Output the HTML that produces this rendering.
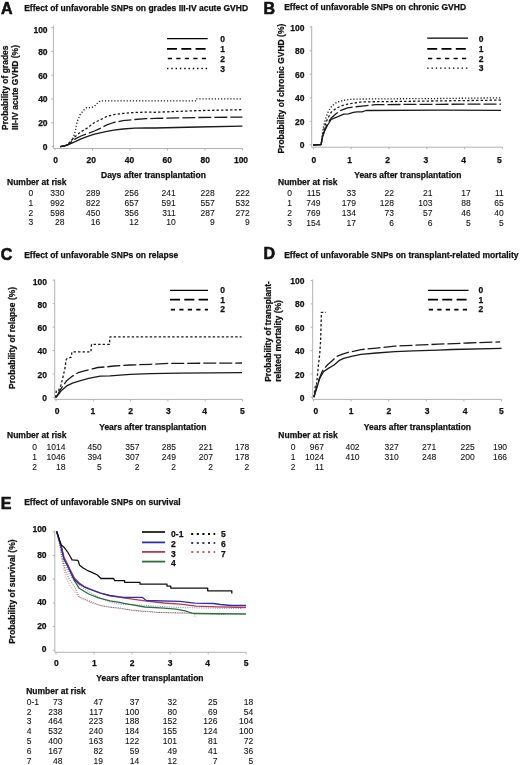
<!DOCTYPE html>
<html><head><meta charset="utf-8"><style>
html,body{margin:0;padding:0;background:#fff;}
svg{display:block;filter:blur(0.3px);}
text{fill:#111;}
text.b{stroke:#111;stroke-width:0.25px;}
text.L{stroke:#111;stroke-width:0.6px;}
text.r{stroke:#222;stroke-width:0.1px;}
</style></head><body>
<svg width="520" height="765" viewBox="0 0 520 765">
<rect width="520" height="765" fill="#fff"/>
<text class="L" x="1.0" y="13.8" font-family="Liberation Sans, sans-serif" font-weight="bold" font-size="16" text-anchor="start">A</text>
<text class="b" x="24.2" y="11.2" font-family="Liberation Sans, sans-serif" font-weight="bold" font-size="8.5" text-anchor="start">Effect of unfavorable SNPs on grades III-IV acute GVHD</text>
<text class="b" transform="translate(7.6,130.0) rotate(-90)" font-family="Liberation Sans, sans-serif" font-weight="bold" font-size="8.5">Probability of grades</text>
<text class="b" transform="translate(17.6,130.0) rotate(-90)" font-family="Liberation Sans, sans-serif" font-weight="bold" font-size="8.5">III-IV acute GVHD (%)</text>
<line x1="53.4" y1="25.5" x2="53.4" y2="148.5" stroke="#b2b2b2" stroke-width="1"/>
<line x1="53.4" y1="148.5" x2="242.5" y2="148.5" stroke="#b2b2b2" stroke-width="1"/>
<line x1="51.4" y1="27.6" x2="53.4" y2="27.6" stroke="#b2b2b2" stroke-width="1"/>
<line x1="51.4" y1="51.4" x2="53.4" y2="51.4" stroke="#b2b2b2" stroke-width="1"/>
<line x1="51.4" y1="75.2" x2="53.4" y2="75.2" stroke="#b2b2b2" stroke-width="1"/>
<line x1="51.4" y1="99.0" x2="53.4" y2="99.0" stroke="#b2b2b2" stroke-width="1"/>
<line x1="51.4" y1="122.8" x2="53.4" y2="122.8" stroke="#b2b2b2" stroke-width="1"/>
<line x1="51.4" y1="146.6" x2="53.4" y2="146.6" stroke="#b2b2b2" stroke-width="1"/>
<line x1="55.0" y1="148.5" x2="55.0" y2="150.5" stroke="#b2b2b2" stroke-width="1"/>
<line x1="92.5" y1="148.5" x2="92.5" y2="150.5" stroke="#b2b2b2" stroke-width="1"/>
<line x1="130.0" y1="148.5" x2="130.0" y2="150.5" stroke="#b2b2b2" stroke-width="1"/>
<line x1="167.5" y1="148.5" x2="167.5" y2="150.5" stroke="#b2b2b2" stroke-width="1"/>
<line x1="205.0" y1="148.5" x2="205.0" y2="150.5" stroke="#b2b2b2" stroke-width="1"/>
<line x1="242.5" y1="148.5" x2="242.5" y2="150.5" stroke="#b2b2b2" stroke-width="1"/>
<text class="b" x="47.6" y="32.5" font-family="Liberation Sans, sans-serif" font-weight="bold" font-size="8.5" text-anchor="end">100</text>
<text class="b" x="47.6" y="55.2" font-family="Liberation Sans, sans-serif" font-weight="bold" font-size="8.5" text-anchor="end">80</text>
<text class="b" x="47.6" y="78.8" font-family="Liberation Sans, sans-serif" font-weight="bold" font-size="8.5" text-anchor="end">60</text>
<text class="b" x="47.6" y="102.4" font-family="Liberation Sans, sans-serif" font-weight="bold" font-size="8.5" text-anchor="end">40</text>
<text class="b" x="47.6" y="126.0" font-family="Liberation Sans, sans-serif" font-weight="bold" font-size="8.5" text-anchor="end">20</text>
<text class="b" x="47.6" y="149.5" font-family="Liberation Sans, sans-serif" font-weight="bold" font-size="8.5" text-anchor="end">0</text>
<text class="b" x="55.7" y="162.7" font-family="Liberation Sans, sans-serif" font-weight="bold" font-size="8.5" text-anchor="middle">0</text>
<text class="b" x="91.3" y="162.7" font-family="Liberation Sans, sans-serif" font-weight="bold" font-size="8.5" text-anchor="middle">20</text>
<text class="b" x="129.5" y="162.7" font-family="Liberation Sans, sans-serif" font-weight="bold" font-size="8.5" text-anchor="middle">40</text>
<text class="b" x="167.3" y="162.7" font-family="Liberation Sans, sans-serif" font-weight="bold" font-size="8.5" text-anchor="middle">60</text>
<text class="b" x="205.2" y="162.7" font-family="Liberation Sans, sans-serif" font-weight="bold" font-size="8.5" text-anchor="middle">80</text>
<text class="b" x="241.0" y="162.7" font-family="Liberation Sans, sans-serif" font-weight="bold" font-size="8.5" text-anchor="middle">100</text>
<text class="b" x="101.0" y="178.0" font-family="Liberation Sans, sans-serif" font-weight="bold" font-size="8.5" text-anchor="start">Days after transplantation</text>
<line x1="167.0" y1="38.5" x2="207.7" y2="38.5" stroke="#000" stroke-width="1.25"/>
<line x1="167.0" y1="48.8" x2="207.7" y2="48.8" stroke="#000" stroke-width="1.7" stroke-dasharray="10 4.3"/>
<line x1="167.8" y1="58.5" x2="207.7" y2="58.5" stroke="#000" stroke-width="1.7" stroke-dasharray="4.2 4.3"/>
<line x1="167.0" y1="68.5" x2="207.7" y2="68.5" stroke="#000" stroke-width="1.4" stroke-dasharray="1.4 2.9"/>
<text class="b" x="220.3" y="41.8" font-family="Liberation Sans, sans-serif" font-weight="bold" font-size="8.5" text-anchor="start">0</text>
<text class="b" x="220.3" y="51.8" font-family="Liberation Sans, sans-serif" font-weight="bold" font-size="8.5" text-anchor="start">1</text>
<text class="b" x="220.3" y="61.5" font-family="Liberation Sans, sans-serif" font-weight="bold" font-size="8.5" text-anchor="start">2</text>
<text class="b" x="220.3" y="71.5" font-family="Liberation Sans, sans-serif" font-weight="bold" font-size="8.5" text-anchor="start">3</text>
<polyline points="60.3,146.6 64.0,146.0 67.5,145.1 69.5,144.2 75.2,141.7 81.0,138.9 87.7,136.4 94.5,134.1 100.2,132.8 106.9,131.4 113.8,130.2 123.0,129.0 134.6,128.2 146.1,127.9 155.0,128.0 198.3,127.0 242.4,126.1" fill="none" stroke="#1a1a1a" stroke-width="1.3" stroke-linejoin="round"/>
<polyline points="60.3,146.6 64.0,146.0 67.5,144.9 70.0,142.9 75.2,138.9 81.0,136.0 87.7,133.6 94.5,131.0 100.2,128.3 106.9,124.9 113.8,122.5 123.0,120.6 134.6,119.5 146.1,118.7 155.0,118.4 198.3,117.5 242.4,117.1" fill="none" stroke="#1a1a1a" stroke-width="1.3" stroke-linejoin="round" stroke-dasharray="13 3"/>
<polyline points="60.3,146.6 64.0,146.0 67.5,144.7 70.0,141.9 75.2,136.4 81.0,131.7 87.7,127.8 94.5,122.5 100.2,119.9 106.9,116.4 113.8,114.6 123.0,113.4 134.6,112.5 146.1,112.1 155.0,112.3 198.3,110.6 242.4,109.7" fill="none" stroke="#1a1a1a" stroke-width="1.3" stroke-linejoin="round" stroke-dasharray="2.4 2.1"/>
<polyline points="60.3,146.6 64.0,146.0 67.5,144.7 71.0,141.9 73.3,137.9 75.2,131.2 77.2,121.6 80.0,114.8 83.9,110.0 86.8,107.6 91.6,107.6 94.5,106.2 98.3,102.3 100.2,100.8 196.5,100.8 196.8,98.8 242.4,98.8" fill="none" stroke="#1a1a1a" stroke-width="1.3" stroke-linejoin="round" stroke-dasharray="1.2 1.9"/>
<text class="b" x="7.0" y="185.0" font-family="Liberation Sans, sans-serif" font-weight="bold" font-size="8.5" text-anchor="start">Number at risk</text>
<text class="r" x="30.8" y="195.8" font-family="Liberation Sans, sans-serif" font-size="8.5" text-anchor="middle">0</text>
<text class="r" x="64.5" y="195.8" font-family="Liberation Sans, sans-serif" font-size="8.5" text-anchor="end">330</text>
<text class="r" x="100.3" y="195.8" font-family="Liberation Sans, sans-serif" font-size="8.5" text-anchor="end">289</text>
<text class="r" x="138.7" y="195.8" font-family="Liberation Sans, sans-serif" font-size="8.5" text-anchor="end">256</text>
<text class="r" x="175.7" y="195.8" font-family="Liberation Sans, sans-serif" font-size="8.5" text-anchor="end">241</text>
<text class="r" x="214.7" y="195.8" font-family="Liberation Sans, sans-serif" font-size="8.5" text-anchor="end">228</text>
<text class="r" x="249.8" y="195.8" font-family="Liberation Sans, sans-serif" font-size="8.5" text-anchor="end">222</text>
<text class="r" x="30.8" y="205.8" font-family="Liberation Sans, sans-serif" font-size="8.5" text-anchor="middle">1</text>
<text class="r" x="64.5" y="205.8" font-family="Liberation Sans, sans-serif" font-size="8.5" text-anchor="end">992</text>
<text class="r" x="100.3" y="205.8" font-family="Liberation Sans, sans-serif" font-size="8.5" text-anchor="end">822</text>
<text class="r" x="138.7" y="205.8" font-family="Liberation Sans, sans-serif" font-size="8.5" text-anchor="end">657</text>
<text class="r" x="175.7" y="205.8" font-family="Liberation Sans, sans-serif" font-size="8.5" text-anchor="end">591</text>
<text class="r" x="214.7" y="205.8" font-family="Liberation Sans, sans-serif" font-size="8.5" text-anchor="end">557</text>
<text class="r" x="249.8" y="205.8" font-family="Liberation Sans, sans-serif" font-size="8.5" text-anchor="end">532</text>
<text class="r" x="30.8" y="215.7" font-family="Liberation Sans, sans-serif" font-size="8.5" text-anchor="middle">2</text>
<text class="r" x="64.5" y="215.7" font-family="Liberation Sans, sans-serif" font-size="8.5" text-anchor="end">598</text>
<text class="r" x="100.3" y="215.7" font-family="Liberation Sans, sans-serif" font-size="8.5" text-anchor="end">450</text>
<text class="r" x="138.7" y="215.7" font-family="Liberation Sans, sans-serif" font-size="8.5" text-anchor="end">356</text>
<text class="r" x="175.7" y="215.7" font-family="Liberation Sans, sans-serif" font-size="8.5" text-anchor="end">311</text>
<text class="r" x="214.7" y="215.7" font-family="Liberation Sans, sans-serif" font-size="8.5" text-anchor="end">287</text>
<text class="r" x="249.8" y="215.7" font-family="Liberation Sans, sans-serif" font-size="8.5" text-anchor="end">272</text>
<text class="r" x="30.8" y="225.2" font-family="Liberation Sans, sans-serif" font-size="8.5" text-anchor="middle">3</text>
<text class="r" x="64.5" y="225.2" font-family="Liberation Sans, sans-serif" font-size="8.5" text-anchor="end">28</text>
<text class="r" x="100.3" y="225.2" font-family="Liberation Sans, sans-serif" font-size="8.5" text-anchor="end">16</text>
<text class="r" x="138.7" y="225.2" font-family="Liberation Sans, sans-serif" font-size="8.5" text-anchor="end">12</text>
<text class="r" x="175.7" y="225.2" font-family="Liberation Sans, sans-serif" font-size="8.5" text-anchor="end">10</text>
<text class="r" x="214.7" y="225.2" font-family="Liberation Sans, sans-serif" font-size="8.5" text-anchor="end">9</text>
<text class="r" x="249.8" y="225.2" font-family="Liberation Sans, sans-serif" font-size="8.5" text-anchor="end">9</text>
<text class="L" x="263.6" y="13.8" font-family="Liberation Sans, sans-serif" font-weight="bold" font-size="16" text-anchor="start">B</text>
<text class="b" x="284.2" y="10.3" font-family="Liberation Sans, sans-serif" font-weight="bold" font-size="8.5" text-anchor="start">Effect of unfavorable SNPs on chronic GVHD</text>
<text class="b" transform="translate(283.9,153.6) rotate(-90)" font-family="Liberation Sans, sans-serif" font-weight="bold" font-size="8.5">Probability of chronic GVHD (%)</text>
<line x1="311.7" y1="26.0" x2="311.7" y2="147.2" stroke="#b2b2b2" stroke-width="1"/>
<line x1="311.7" y1="147.2" x2="502.3" y2="147.2" stroke="#b2b2b2" stroke-width="1"/>
<line x1="309.7" y1="27.1" x2="311.7" y2="27.1" stroke="#b2b2b2" stroke-width="1"/>
<line x1="309.7" y1="50.7" x2="311.7" y2="50.7" stroke="#b2b2b2" stroke-width="1"/>
<line x1="309.7" y1="74.2" x2="311.7" y2="74.2" stroke="#b2b2b2" stroke-width="1"/>
<line x1="309.7" y1="97.8" x2="311.7" y2="97.8" stroke="#b2b2b2" stroke-width="1"/>
<line x1="309.7" y1="121.3" x2="311.7" y2="121.3" stroke="#b2b2b2" stroke-width="1"/>
<line x1="309.7" y1="144.8" x2="311.7" y2="144.8" stroke="#b2b2b2" stroke-width="1"/>
<line x1="313.4" y1="147.2" x2="313.4" y2="149.2" stroke="#b2b2b2" stroke-width="1"/>
<line x1="351.2" y1="147.2" x2="351.2" y2="149.2" stroke="#b2b2b2" stroke-width="1"/>
<line x1="389.0" y1="147.2" x2="389.0" y2="149.2" stroke="#b2b2b2" stroke-width="1"/>
<line x1="426.8" y1="147.2" x2="426.8" y2="149.2" stroke="#b2b2b2" stroke-width="1"/>
<line x1="464.6" y1="147.2" x2="464.6" y2="149.2" stroke="#b2b2b2" stroke-width="1"/>
<line x1="502.4" y1="147.2" x2="502.4" y2="149.2" stroke="#b2b2b2" stroke-width="1"/>
<text class="b" x="304.4" y="31.2" font-family="Liberation Sans, sans-serif" font-weight="bold" font-size="8.5" text-anchor="end">100</text>
<text class="b" x="304.4" y="54.2" font-family="Liberation Sans, sans-serif" font-weight="bold" font-size="8.5" text-anchor="end">80</text>
<text class="b" x="304.4" y="77.6" font-family="Liberation Sans, sans-serif" font-weight="bold" font-size="8.5" text-anchor="end">60</text>
<text class="b" x="304.4" y="101.0" font-family="Liberation Sans, sans-serif" font-weight="bold" font-size="8.5" text-anchor="end">40</text>
<text class="b" x="304.4" y="124.5" font-family="Liberation Sans, sans-serif" font-weight="bold" font-size="8.5" text-anchor="end">20</text>
<text class="b" x="304.4" y="148.0" font-family="Liberation Sans, sans-serif" font-weight="bold" font-size="8.5" text-anchor="end">0</text>
<text class="b" x="313.8" y="162.7" font-family="Liberation Sans, sans-serif" font-weight="bold" font-size="8.5" text-anchor="middle">0</text>
<text class="b" x="349.6" y="162.7" font-family="Liberation Sans, sans-serif" font-weight="bold" font-size="8.5" text-anchor="middle">1</text>
<text class="b" x="387.5" y="162.7" font-family="Liberation Sans, sans-serif" font-weight="bold" font-size="8.5" text-anchor="middle">2</text>
<text class="b" x="425.8" y="162.7" font-family="Liberation Sans, sans-serif" font-weight="bold" font-size="8.5" text-anchor="middle">3</text>
<text class="b" x="463.5" y="162.7" font-family="Liberation Sans, sans-serif" font-weight="bold" font-size="8.5" text-anchor="middle">4</text>
<text class="b" x="499.3" y="162.7" font-family="Liberation Sans, sans-serif" font-weight="bold" font-size="8.5" text-anchor="middle">5</text>
<text class="b" x="354.2" y="178.2" font-family="Liberation Sans, sans-serif" font-weight="bold" font-size="8.5" text-anchor="start">Years after transplantation</text>
<line x1="427.2" y1="38.0" x2="468.0" y2="38.0" stroke="#000" stroke-width="1.25"/>
<line x1="427.2" y1="48.8" x2="468.0" y2="48.8" stroke="#000" stroke-width="1.7" stroke-dasharray="10 4.3"/>
<line x1="428.0" y1="58.5" x2="468.0" y2="58.5" stroke="#000" stroke-width="1.7" stroke-dasharray="4.2 4.3"/>
<line x1="427.2" y1="68.1" x2="468.0" y2="68.1" stroke="#000" stroke-width="1.4" stroke-dasharray="1.4 2.9"/>
<text class="b" x="478.8" y="41.8" font-family="Liberation Sans, sans-serif" font-weight="bold" font-size="8.5" text-anchor="start">0</text>
<text class="b" x="478.8" y="51.8" font-family="Liberation Sans, sans-serif" font-weight="bold" font-size="8.5" text-anchor="start">1</text>
<text class="b" x="478.8" y="61.5" font-family="Liberation Sans, sans-serif" font-weight="bold" font-size="8.5" text-anchor="start">2</text>
<text class="b" x="478.8" y="71.1" font-family="Liberation Sans, sans-serif" font-weight="bold" font-size="8.5" text-anchor="start">3</text>
<polyline points="313.4,145.0 321.1,144.5 322.6,136.8 324.5,131.2 327.4,125.5 331.2,119.5 334.1,118.1 338.0,116.6 343.7,114.2 348.5,113.8 353.3,112.3 357.2,111.8 362.0,111.8 366.0,110.5 440.0,110.2 501.0,110.4" fill="none" stroke="#1a1a1a" stroke-width="1.3" stroke-linejoin="round"/>
<polyline points="313.4,145.0 321.1,144.5 322.6,136.3 324.5,130.6 327.4,123.8 331.2,118.1 336.0,113.8 340.8,110.4 347.6,107.8 353.3,107.0 362.0,106.1 375.4,104.6 440.0,104.3 501.0,104.1" fill="none" stroke="#1a1a1a" stroke-width="1.3" stroke-linejoin="round" stroke-dasharray="13 3"/>
<polyline points="313.4,145.0 321.1,144.5 322.6,135.5 324.5,126.7 327.4,119.0 331.2,112.3 336.0,108.5 340.8,106.1 347.6,104.1 353.3,103.2 362.0,101.9 440.0,100.9 501.0,100.1" fill="none" stroke="#1a1a1a" stroke-width="1.3" stroke-linejoin="round" stroke-dasharray="2.4 2.1"/>
<polyline points="313.4,145.0 321.1,144.5 322.3,134.0 323.5,126.7 325.5,119.0 328.3,111.3 332.2,105.6 337.0,102.2 343.7,100.3 350.5,99.3 362.0,99.0 440.0,98.5 501.0,97.8" fill="none" stroke="#1a1a1a" stroke-width="1.3" stroke-linejoin="round" stroke-dasharray="1.2 1.9"/>
<text class="b" x="278.0" y="184.8" font-family="Liberation Sans, sans-serif" font-weight="bold" font-size="8.5" text-anchor="start">Number at risk</text>
<text class="r" x="289.5" y="196.2" font-family="Liberation Sans, sans-serif" font-size="8.5" text-anchor="middle">0</text>
<text class="r" x="320.4" y="196.2" font-family="Liberation Sans, sans-serif" font-size="8.5" text-anchor="end">115</text>
<text class="r" x="355.9" y="196.2" font-family="Liberation Sans, sans-serif" font-size="8.5" text-anchor="end">33</text>
<text class="r" x="393.9" y="196.2" font-family="Liberation Sans, sans-serif" font-size="8.5" text-anchor="end">22</text>
<text class="r" x="432.4" y="196.2" font-family="Liberation Sans, sans-serif" font-size="8.5" text-anchor="end">21</text>
<text class="r" x="470.7" y="196.2" font-family="Liberation Sans, sans-serif" font-size="8.5" text-anchor="end">17</text>
<text class="r" x="503.8" y="196.2" font-family="Liberation Sans, sans-serif" font-size="8.5" text-anchor="end">11</text>
<text class="r" x="289.5" y="206.0" font-family="Liberation Sans, sans-serif" font-size="8.5" text-anchor="middle">1</text>
<text class="r" x="320.4" y="206.0" font-family="Liberation Sans, sans-serif" font-size="8.5" text-anchor="end">749</text>
<text class="r" x="355.9" y="206.0" font-family="Liberation Sans, sans-serif" font-size="8.5" text-anchor="end">179</text>
<text class="r" x="393.9" y="206.0" font-family="Liberation Sans, sans-serif" font-size="8.5" text-anchor="end">128</text>
<text class="r" x="432.4" y="206.0" font-family="Liberation Sans, sans-serif" font-size="8.5" text-anchor="end">103</text>
<text class="r" x="470.7" y="206.0" font-family="Liberation Sans, sans-serif" font-size="8.5" text-anchor="end">88</text>
<text class="r" x="503.8" y="206.0" font-family="Liberation Sans, sans-serif" font-size="8.5" text-anchor="end">65</text>
<text class="r" x="289.5" y="215.5" font-family="Liberation Sans, sans-serif" font-size="8.5" text-anchor="middle">2</text>
<text class="r" x="320.4" y="215.5" font-family="Liberation Sans, sans-serif" font-size="8.5" text-anchor="end">769</text>
<text class="r" x="355.9" y="215.5" font-family="Liberation Sans, sans-serif" font-size="8.5" text-anchor="end">134</text>
<text class="r" x="393.9" y="215.5" font-family="Liberation Sans, sans-serif" font-size="8.5" text-anchor="end">73</text>
<text class="r" x="432.4" y="215.5" font-family="Liberation Sans, sans-serif" font-size="8.5" text-anchor="end">57</text>
<text class="r" x="470.7" y="215.5" font-family="Liberation Sans, sans-serif" font-size="8.5" text-anchor="end">46</text>
<text class="r" x="503.8" y="215.5" font-family="Liberation Sans, sans-serif" font-size="8.5" text-anchor="end">40</text>
<text class="r" x="289.5" y="225.5" font-family="Liberation Sans, sans-serif" font-size="8.5" text-anchor="middle">3</text>
<text class="r" x="320.4" y="225.5" font-family="Liberation Sans, sans-serif" font-size="8.5" text-anchor="end">154</text>
<text class="r" x="355.9" y="225.5" font-family="Liberation Sans, sans-serif" font-size="8.5" text-anchor="end">17</text>
<text class="r" x="393.9" y="225.5" font-family="Liberation Sans, sans-serif" font-size="8.5" text-anchor="end">6</text>
<text class="r" x="432.4" y="225.5" font-family="Liberation Sans, sans-serif" font-size="8.5" text-anchor="end">6</text>
<text class="r" x="470.7" y="225.5" font-family="Liberation Sans, sans-serif" font-size="8.5" text-anchor="end">5</text>
<text class="r" x="503.8" y="225.5" font-family="Liberation Sans, sans-serif" font-size="8.5" text-anchor="end">5</text>
<text class="L" x="0.8" y="259.6" font-family="Liberation Sans, sans-serif" font-weight="bold" font-size="16" text-anchor="start">C</text>
<text class="b" x="24.2" y="257.8" font-family="Liberation Sans, sans-serif" font-weight="bold" font-size="8.5" text-anchor="start">Effect of unfavorable SNPs on relapse</text>
<text class="b" transform="translate(14.7,388.9) rotate(-90)" font-family="Liberation Sans, sans-serif" font-weight="bold" font-size="8.5">Probability of relapse (%)</text>
<line x1="54.7" y1="279.5" x2="54.7" y2="399.4" stroke="#b2b2b2" stroke-width="1"/>
<line x1="54.7" y1="399.4" x2="242.5" y2="399.4" stroke="#b2b2b2" stroke-width="1"/>
<line x1="52.7" y1="280.2" x2="54.7" y2="280.2" stroke="#b2b2b2" stroke-width="1"/>
<line x1="52.7" y1="303.6" x2="54.7" y2="303.6" stroke="#b2b2b2" stroke-width="1"/>
<line x1="52.7" y1="327.1" x2="54.7" y2="327.1" stroke="#b2b2b2" stroke-width="1"/>
<line x1="52.7" y1="350.5" x2="54.7" y2="350.5" stroke="#b2b2b2" stroke-width="1"/>
<line x1="52.7" y1="374.0" x2="54.7" y2="374.0" stroke="#b2b2b2" stroke-width="1"/>
<line x1="52.7" y1="397.4" x2="54.7" y2="397.4" stroke="#b2b2b2" stroke-width="1"/>
<line x1="56.0" y1="399.4" x2="56.0" y2="401.4" stroke="#b2b2b2" stroke-width="1"/>
<line x1="93.3" y1="399.4" x2="93.3" y2="401.4" stroke="#b2b2b2" stroke-width="1"/>
<line x1="130.6" y1="399.4" x2="130.6" y2="401.4" stroke="#b2b2b2" stroke-width="1"/>
<line x1="167.9" y1="399.4" x2="167.9" y2="401.4" stroke="#b2b2b2" stroke-width="1"/>
<line x1="205.2" y1="399.4" x2="205.2" y2="401.4" stroke="#b2b2b2" stroke-width="1"/>
<line x1="242.5" y1="399.4" x2="242.5" y2="401.4" stroke="#b2b2b2" stroke-width="1"/>
<text class="b" x="47.0" y="284.7" font-family="Liberation Sans, sans-serif" font-weight="bold" font-size="8.5" text-anchor="end">100</text>
<text class="b" x="47.0" y="307.6" font-family="Liberation Sans, sans-serif" font-weight="bold" font-size="8.5" text-anchor="end">80</text>
<text class="b" x="47.0" y="330.8" font-family="Liberation Sans, sans-serif" font-weight="bold" font-size="8.5" text-anchor="end">60</text>
<text class="b" x="47.0" y="354.2" font-family="Liberation Sans, sans-serif" font-weight="bold" font-size="8.5" text-anchor="end">40</text>
<text class="b" x="47.0" y="377.7" font-family="Liberation Sans, sans-serif" font-weight="bold" font-size="8.5" text-anchor="end">20</text>
<text class="b" x="47.0" y="401.0" font-family="Liberation Sans, sans-serif" font-weight="bold" font-size="8.5" text-anchor="end">0</text>
<text class="b" x="57.0" y="413.7" font-family="Liberation Sans, sans-serif" font-weight="bold" font-size="8.5" text-anchor="middle">0</text>
<text class="b" x="92.8" y="413.7" font-family="Liberation Sans, sans-serif" font-weight="bold" font-size="8.5" text-anchor="middle">1</text>
<text class="b" x="130.5" y="413.7" font-family="Liberation Sans, sans-serif" font-weight="bold" font-size="8.5" text-anchor="middle">2</text>
<text class="b" x="168.4" y="413.7" font-family="Liberation Sans, sans-serif" font-weight="bold" font-size="8.5" text-anchor="middle">3</text>
<text class="b" x="204.6" y="413.7" font-family="Liberation Sans, sans-serif" font-weight="bold" font-size="8.5" text-anchor="middle">4</text>
<text class="b" x="242.3" y="413.7" font-family="Liberation Sans, sans-serif" font-weight="bold" font-size="8.5" text-anchor="middle">5</text>
<text class="b" x="99.2" y="429.9" font-family="Liberation Sans, sans-serif" font-weight="bold" font-size="8.5" text-anchor="start">Years after transplantation</text>
<line x1="170.0" y1="290.4" x2="208.0" y2="290.4" stroke="#000" stroke-width="1.25"/>
<line x1="170.0" y1="299.6" x2="208.0" y2="299.6" stroke="#000" stroke-width="1.7" stroke-dasharray="10 4.3"/>
<line x1="170.8" y1="309.6" x2="208.0" y2="309.6" stroke="#000" stroke-width="1.7" stroke-dasharray="4.2 4.3"/>
<text class="b" x="220.3" y="292.9" font-family="Liberation Sans, sans-serif" font-weight="bold" font-size="8.5" text-anchor="start">0</text>
<text class="b" x="220.3" y="302.6" font-family="Liberation Sans, sans-serif" font-weight="bold" font-size="8.5" text-anchor="start">1</text>
<text class="b" x="220.3" y="312.2" font-family="Liberation Sans, sans-serif" font-weight="bold" font-size="8.5" text-anchor="start">2</text>
<polyline points="55.7,397.5 58.0,395.0 60.9,391.1 66.7,385.9 72.5,383.1 80.5,380.7 88.6,378.4 100.1,376.1 110.0,375.8 130.2,374.4 150.4,373.7 180.0,373.1 242.0,372.7" fill="none" stroke="#1a1a1a" stroke-width="1.3" stroke-linejoin="round"/>
<polyline points="55.7,397.5 58.0,394.0 60.9,388.8 66.7,380.7 72.5,376.1 78.2,372.7 86.3,370.4 97.8,367.5 105.9,366.9 114.0,366.0 130.2,365.0 150.4,364.3 169.2,363.4 242.0,363.0" fill="none" stroke="#1a1a1a" stroke-width="1.3" stroke-linejoin="round" stroke-dasharray="13 3"/>
<polyline points="55.7,397.5 56.3,390.5 58.6,390.5 60.9,385.4 63.2,376.1 65.0,368.0 66.1,360.0 66.7,358.8 71.3,357.1 71.9,351.9 90.9,351.9 91.5,344.4 109.4,344.4 110.0,336.9 241.6,336.9" fill="none" stroke="#1a1a1a" stroke-width="1.3" stroke-linejoin="round" stroke-dasharray="2.4 2.1"/>
<text class="b" x="7.0" y="438.1" font-family="Liberation Sans, sans-serif" font-weight="bold" font-size="8.5" text-anchor="start">Number at risk</text>
<text class="r" x="34.5" y="450.2" font-family="Liberation Sans, sans-serif" font-size="8.5" text-anchor="middle">0</text>
<text class="r" x="65.4" y="450.2" font-family="Liberation Sans, sans-serif" font-size="8.5" text-anchor="end">1014</text>
<text class="r" x="101.7" y="450.2" font-family="Liberation Sans, sans-serif" font-size="8.5" text-anchor="end">450</text>
<text class="r" x="139.4" y="450.2" font-family="Liberation Sans, sans-serif" font-size="8.5" text-anchor="end">357</text>
<text class="r" x="175.9" y="450.2" font-family="Liberation Sans, sans-serif" font-size="8.5" text-anchor="end">285</text>
<text class="r" x="212.9" y="450.2" font-family="Liberation Sans, sans-serif" font-size="8.5" text-anchor="end">221</text>
<text class="r" x="249.2" y="450.2" font-family="Liberation Sans, sans-serif" font-size="8.5" text-anchor="end">178</text>
<text class="r" x="34.5" y="460.0" font-family="Liberation Sans, sans-serif" font-size="8.5" text-anchor="middle">1</text>
<text class="r" x="65.4" y="460.0" font-family="Liberation Sans, sans-serif" font-size="8.5" text-anchor="end">1046</text>
<text class="r" x="101.7" y="460.0" font-family="Liberation Sans, sans-serif" font-size="8.5" text-anchor="end">394</text>
<text class="r" x="139.4" y="460.0" font-family="Liberation Sans, sans-serif" font-size="8.5" text-anchor="end">307</text>
<text class="r" x="175.9" y="460.0" font-family="Liberation Sans, sans-serif" font-size="8.5" text-anchor="end">249</text>
<text class="r" x="212.9" y="460.0" font-family="Liberation Sans, sans-serif" font-size="8.5" text-anchor="end">207</text>
<text class="r" x="249.2" y="460.0" font-family="Liberation Sans, sans-serif" font-size="8.5" text-anchor="end">178</text>
<text class="r" x="34.5" y="469.9" font-family="Liberation Sans, sans-serif" font-size="8.5" text-anchor="middle">2</text>
<text class="r" x="65.4" y="469.9" font-family="Liberation Sans, sans-serif" font-size="8.5" text-anchor="end">18</text>
<text class="r" x="101.7" y="469.9" font-family="Liberation Sans, sans-serif" font-size="8.5" text-anchor="end">5</text>
<text class="r" x="139.4" y="469.9" font-family="Liberation Sans, sans-serif" font-size="8.5" text-anchor="end">2</text>
<text class="r" x="175.9" y="469.9" font-family="Liberation Sans, sans-serif" font-size="8.5" text-anchor="end">2</text>
<text class="r" x="212.9" y="469.9" font-family="Liberation Sans, sans-serif" font-size="8.5" text-anchor="end">2</text>
<text class="r" x="249.2" y="469.9" font-family="Liberation Sans, sans-serif" font-size="8.5" text-anchor="end">2</text>
<text class="L" x="263.4" y="259.2" font-family="Liberation Sans, sans-serif" font-weight="bold" font-size="16" text-anchor="start">D</text>
<text class="b" x="284.2" y="257.8" font-family="Liberation Sans, sans-serif" font-weight="bold" font-size="8.5" text-anchor="start">Effect of unfavorable SNPs on transplant-related mortality</text>
<text class="b" transform="translate(270.7,381.8) rotate(-90)" font-family="Liberation Sans, sans-serif" font-weight="bold" font-size="8.5">Probability of transplant-</text>
<text class="b" transform="translate(280.5,381.8) rotate(-90)" font-family="Liberation Sans, sans-serif" font-weight="bold" font-size="8.5">related mortality (%)</text>
<line x1="312.7" y1="279.5" x2="312.7" y2="399.4" stroke="#b2b2b2" stroke-width="1"/>
<line x1="312.7" y1="399.4" x2="501.3" y2="399.4" stroke="#b2b2b2" stroke-width="1"/>
<line x1="310.7" y1="280.5" x2="312.7" y2="280.5" stroke="#b2b2b2" stroke-width="1"/>
<line x1="310.7" y1="303.9" x2="312.7" y2="303.9" stroke="#b2b2b2" stroke-width="1"/>
<line x1="310.7" y1="327.2" x2="312.7" y2="327.2" stroke="#b2b2b2" stroke-width="1"/>
<line x1="310.7" y1="350.6" x2="312.7" y2="350.6" stroke="#b2b2b2" stroke-width="1"/>
<line x1="310.7" y1="373.9" x2="312.7" y2="373.9" stroke="#b2b2b2" stroke-width="1"/>
<line x1="310.7" y1="397.2" x2="312.7" y2="397.2" stroke="#b2b2b2" stroke-width="1"/>
<line x1="313.5" y1="399.4" x2="313.5" y2="401.4" stroke="#b2b2b2" stroke-width="1"/>
<line x1="351.1" y1="399.4" x2="351.1" y2="401.4" stroke="#b2b2b2" stroke-width="1"/>
<line x1="388.7" y1="399.4" x2="388.7" y2="401.4" stroke="#b2b2b2" stroke-width="1"/>
<line x1="426.3" y1="399.4" x2="426.3" y2="401.4" stroke="#b2b2b2" stroke-width="1"/>
<line x1="463.9" y1="399.4" x2="463.9" y2="401.4" stroke="#b2b2b2" stroke-width="1"/>
<line x1="501.5" y1="399.4" x2="501.5" y2="401.4" stroke="#b2b2b2" stroke-width="1"/>
<text class="b" x="304.4" y="284.0" font-family="Liberation Sans, sans-serif" font-weight="bold" font-size="8.5" text-anchor="end">100</text>
<text class="b" x="304.4" y="307.3" font-family="Liberation Sans, sans-serif" font-weight="bold" font-size="8.5" text-anchor="end">80</text>
<text class="b" x="304.4" y="330.6" font-family="Liberation Sans, sans-serif" font-weight="bold" font-size="8.5" text-anchor="end">60</text>
<text class="b" x="304.4" y="354.2" font-family="Liberation Sans, sans-serif" font-weight="bold" font-size="8.5" text-anchor="end">40</text>
<text class="b" x="304.4" y="377.6" font-family="Liberation Sans, sans-serif" font-weight="bold" font-size="8.5" text-anchor="end">20</text>
<text class="b" x="304.4" y="400.6" font-family="Liberation Sans, sans-serif" font-weight="bold" font-size="8.5" text-anchor="end">0</text>
<text class="b" x="315.8" y="413.7" font-family="Liberation Sans, sans-serif" font-weight="bold" font-size="8.5" text-anchor="middle">0</text>
<text class="b" x="351.1" y="413.7" font-family="Liberation Sans, sans-serif" font-weight="bold" font-size="8.5" text-anchor="middle">1</text>
<text class="b" x="388.8" y="413.7" font-family="Liberation Sans, sans-serif" font-weight="bold" font-size="8.5" text-anchor="middle">2</text>
<text class="b" x="427.0" y="413.7" font-family="Liberation Sans, sans-serif" font-weight="bold" font-size="8.5" text-anchor="middle">3</text>
<text class="b" x="465.0" y="413.7" font-family="Liberation Sans, sans-serif" font-weight="bold" font-size="8.5" text-anchor="middle">4</text>
<text class="b" x="501.3" y="413.7" font-family="Liberation Sans, sans-serif" font-weight="bold" font-size="8.5" text-anchor="middle">5</text>
<text class="b" x="363.8" y="430.3" font-family="Liberation Sans, sans-serif" font-weight="bold" font-size="8.5" text-anchor="start">Years after transplantation</text>
<line x1="428.0" y1="290.4" x2="468.5" y2="290.4" stroke="#000" stroke-width="1.25"/>
<line x1="428.0" y1="299.6" x2="468.5" y2="299.6" stroke="#000" stroke-width="1.7" stroke-dasharray="10 4.3"/>
<line x1="428.8" y1="309.6" x2="468.5" y2="309.6" stroke="#000" stroke-width="1.7" stroke-dasharray="4.2 4.3"/>
<text class="b" x="478.6" y="292.9" font-family="Liberation Sans, sans-serif" font-weight="bold" font-size="8.5" text-anchor="start">0</text>
<text class="b" x="478.6" y="302.6" font-family="Liberation Sans, sans-serif" font-weight="bold" font-size="8.5" text-anchor="start">1</text>
<text class="b" x="478.6" y="312.2" font-family="Liberation Sans, sans-serif" font-weight="bold" font-size="8.5" text-anchor="start">2</text>
<polyline points="313.9,397.2 316.8,388.1 319.7,378.5 323.5,371.7 328.3,368.4 334.1,365.0 338.9,360.7 343.7,358.3 351.4,356.3 361.0,354.4 376.5,353.0 394.9,351.6 413.4,350.8 438.0,350.1 451.9,349.5 501.6,348.4" fill="none" stroke="#1a1a1a" stroke-width="1.3" stroke-linejoin="round"/>
<polyline points="313.9,397.2 316.8,386.2 319.7,377.5 322.5,370.8 327.3,365.0 332.2,360.7 337.0,356.3 341.8,354.4 349.5,352.0 354.3,351.1 361.0,349.6 376.5,348.1 394.9,346.1 413.4,345.3 438.0,344.2 468.0,343.0 500.2,341.9" fill="none" stroke="#1a1a1a" stroke-width="1.3" stroke-linejoin="round" stroke-dasharray="13 3"/>
<polyline points="313.9,397.2 315.3,386.2 316.2,386.2 316.8,382.3 318.2,366.9 319.7,354.4 320.6,341.0 321.4,312.4 326.0,312.4" fill="none" stroke="#1a1a1a" stroke-width="1.3" stroke-linejoin="round" stroke-dasharray="2.4 2.1"/>
<text class="b" x="278.3" y="437.8" font-family="Liberation Sans, sans-serif" font-weight="bold" font-size="8.5" text-anchor="start">Number at risk</text>
<text class="r" x="293.0" y="449.9" font-family="Liberation Sans, sans-serif" font-size="8.5" text-anchor="middle">0</text>
<text class="r" x="323.9" y="449.9" font-family="Liberation Sans, sans-serif" font-size="8.5" text-anchor="end">967</text>
<text class="r" x="359.6" y="449.9" font-family="Liberation Sans, sans-serif" font-size="8.5" text-anchor="end">402</text>
<text class="r" x="398.7" y="449.9" font-family="Liberation Sans, sans-serif" font-size="8.5" text-anchor="end">327</text>
<text class="r" x="436.2" y="449.9" font-family="Liberation Sans, sans-serif" font-size="8.5" text-anchor="end">271</text>
<text class="r" x="474.7" y="449.9" font-family="Liberation Sans, sans-serif" font-size="8.5" text-anchor="end">225</text>
<text class="r" x="507.1" y="449.9" font-family="Liberation Sans, sans-serif" font-size="8.5" text-anchor="end">190</text>
<text class="r" x="293.0" y="460.1" font-family="Liberation Sans, sans-serif" font-size="8.5" text-anchor="middle">1</text>
<text class="r" x="323.9" y="460.1" font-family="Liberation Sans, sans-serif" font-size="8.5" text-anchor="end">1024</text>
<text class="r" x="359.6" y="460.1" font-family="Liberation Sans, sans-serif" font-size="8.5" text-anchor="end">410</text>
<text class="r" x="398.7" y="460.1" font-family="Liberation Sans, sans-serif" font-size="8.5" text-anchor="end">310</text>
<text class="r" x="436.2" y="460.1" font-family="Liberation Sans, sans-serif" font-size="8.5" text-anchor="end">248</text>
<text class="r" x="474.7" y="460.1" font-family="Liberation Sans, sans-serif" font-size="8.5" text-anchor="end">200</text>
<text class="r" x="507.1" y="460.1" font-family="Liberation Sans, sans-serif" font-size="8.5" text-anchor="end">166</text>
<text class="r" x="293.0" y="470.0" font-family="Liberation Sans, sans-serif" font-size="8.5" text-anchor="middle">2</text>
<text class="r" x="323.9" y="470.0" font-family="Liberation Sans, sans-serif" font-size="8.5" text-anchor="end">11</text>
<text class="L" x="0.7" y="508.7" font-family="Liberation Sans, sans-serif" font-weight="bold" font-size="16" text-anchor="start">E</text>
<text class="b" x="24.2" y="505.2" font-family="Liberation Sans, sans-serif" font-weight="bold" font-size="8.5" text-anchor="start">Effect of unfavorable SNPs on survival</text>
<text class="b" transform="translate(14.7,643.8) rotate(-90)" font-family="Liberation Sans, sans-serif" font-weight="bold" font-size="8.5">Probability of survival (%)</text>
<line x1="54.8" y1="530.5" x2="54.8" y2="652.3" stroke="#b2b2b2" stroke-width="1"/>
<line x1="54.8" y1="652.3" x2="246.2" y2="652.3" stroke="#b2b2b2" stroke-width="1"/>
<line x1="52.8" y1="531.8" x2="54.8" y2="531.8" stroke="#b2b2b2" stroke-width="1"/>
<line x1="52.8" y1="555.5" x2="54.8" y2="555.5" stroke="#b2b2b2" stroke-width="1"/>
<line x1="52.8" y1="579.2" x2="54.8" y2="579.2" stroke="#b2b2b2" stroke-width="1"/>
<line x1="52.8" y1="602.9" x2="54.8" y2="602.9" stroke="#b2b2b2" stroke-width="1"/>
<line x1="52.8" y1="626.6" x2="54.8" y2="626.6" stroke="#b2b2b2" stroke-width="1"/>
<line x1="52.8" y1="650.3" x2="54.8" y2="650.3" stroke="#b2b2b2" stroke-width="1"/>
<line x1="56.0" y1="652.3" x2="56.0" y2="654.3" stroke="#b2b2b2" stroke-width="1"/>
<line x1="94.0" y1="652.3" x2="94.0" y2="654.3" stroke="#b2b2b2" stroke-width="1"/>
<line x1="132.1" y1="652.3" x2="132.1" y2="654.3" stroke="#b2b2b2" stroke-width="1"/>
<line x1="170.1" y1="652.3" x2="170.1" y2="654.3" stroke="#b2b2b2" stroke-width="1"/>
<line x1="208.2" y1="652.3" x2="208.2" y2="654.3" stroke="#b2b2b2" stroke-width="1"/>
<line x1="246.2" y1="652.3" x2="246.2" y2="654.3" stroke="#b2b2b2" stroke-width="1"/>
<text class="b" x="46.6" y="532.2" font-family="Liberation Sans, sans-serif" font-weight="bold" font-size="8.5" text-anchor="end">100</text>
<text class="b" x="46.6" y="557.6" font-family="Liberation Sans, sans-serif" font-weight="bold" font-size="8.5" text-anchor="end">80</text>
<text class="b" x="46.6" y="581.3" font-family="Liberation Sans, sans-serif" font-weight="bold" font-size="8.5" text-anchor="end">60</text>
<text class="b" x="46.6" y="605.3" font-family="Liberation Sans, sans-serif" font-weight="bold" font-size="8.5" text-anchor="end">40</text>
<text class="b" x="46.6" y="628.8" font-family="Liberation Sans, sans-serif" font-weight="bold" font-size="8.5" text-anchor="end">20</text>
<text class="b" x="46.6" y="651.7" font-family="Liberation Sans, sans-serif" font-weight="bold" font-size="8.5" text-anchor="end">0</text>
<text class="b" x="56.3" y="666.4" font-family="Liberation Sans, sans-serif" font-weight="bold" font-size="8.5" text-anchor="middle">0</text>
<text class="b" x="94.4" y="666.4" font-family="Liberation Sans, sans-serif" font-weight="bold" font-size="8.5" text-anchor="middle">1</text>
<text class="b" x="132.2" y="666.4" font-family="Liberation Sans, sans-serif" font-weight="bold" font-size="8.5" text-anchor="middle">2</text>
<text class="b" x="170.0" y="666.4" font-family="Liberation Sans, sans-serif" font-weight="bold" font-size="8.5" text-anchor="middle">3</text>
<text class="b" x="207.6" y="666.4" font-family="Liberation Sans, sans-serif" font-weight="bold" font-size="8.5" text-anchor="middle">4</text>
<text class="b" x="246.2" y="666.4" font-family="Liberation Sans, sans-serif" font-weight="bold" font-size="8.5" text-anchor="middle">5</text>
<text class="b" x="96.3" y="681.1" font-family="Liberation Sans, sans-serif" font-weight="bold" font-size="8.5" text-anchor="start">Years after transplantation</text>
<line x1="142.0" y1="532.0" x2="165.1" y2="532.0" stroke="#000" stroke-width="1.6"/>
<line x1="142.0" y1="542.4" x2="165.1" y2="542.4" stroke="#3030a8" stroke-width="1.8"/>
<line x1="142.0" y1="551.9" x2="165.1" y2="551.9" stroke="#b83a50" stroke-width="1.8"/>
<line x1="142.0" y1="561.6" x2="165.1" y2="561.6" stroke="#2a723a" stroke-width="1.8"/>
<text class="b" x="171.1" y="536.9" font-family="Liberation Sans, sans-serif" font-weight="bold" font-size="8.5" text-anchor="start">0-1</text>
<text class="b" x="171.1" y="546.6" font-family="Liberation Sans, sans-serif" font-weight="bold" font-size="8.5" text-anchor="start">2</text>
<text class="b" x="171.1" y="556.5" font-family="Liberation Sans, sans-serif" font-weight="bold" font-size="8.5" text-anchor="start">3</text>
<text class="b" x="171.1" y="566.4" font-family="Liberation Sans, sans-serif" font-weight="bold" font-size="8.5" text-anchor="start">4</text>
<line x1="191.2" y1="533.9" x2="215.2" y2="533.9" stroke="#000" stroke-width="2.0" stroke-dasharray="2 3.6"/>
<line x1="191.2" y1="543.1" x2="215.2" y2="543.1" stroke="#3030a8" stroke-width="2.0" stroke-dasharray="2 3.6"/>
<line x1="191.2" y1="551.9" x2="215.2" y2="551.9" stroke="#cc5a68" stroke-width="2.0" stroke-dasharray="2 3.6"/>
<text class="b" x="221.0" y="537.3" font-family="Liberation Sans, sans-serif" font-weight="bold" font-size="8.5" text-anchor="start">5</text>
<text class="b" x="221.0" y="546.6" font-family="Liberation Sans, sans-serif" font-weight="bold" font-size="8.5" text-anchor="start">6</text>
<text class="b" x="221.0" y="556.5" font-family="Liberation Sans, sans-serif" font-weight="bold" font-size="8.5" text-anchor="start">7</text>
<polyline points="56.7,531.5 61.0,547.0 64.0,563.0 69.8,575.0 75.0,582.0 83.0,588.0 90.0,592.5 100.0,598.0 110.0,602.0 120.0,604.0 138.7,604.9 160.0,606.5 185.0,607.7 242.0,608.5" fill="none" stroke="#5a5ab8" stroke-width="1.0" stroke-linejoin="round" stroke-dasharray="1.0 1.3" stroke-opacity="0.75"/>
<polyline points="56.7,531.5 60.0,547.0 63.0,566.0 65.8,577.0 70.0,586.0 75.0,592.5 80.0,598.0 90.0,602.5 100.0,605.5 120.0,608.8 160.0,612.5 194.8,613.5 194.8,617.6" fill="none" stroke="#cc5a68" stroke-width="1.0" stroke-linejoin="round" stroke-dasharray="1.0 1.3" stroke-opacity="0.7"/>
<polyline points="56.7,531.5 60.0,545.0 62.5,560.0 65.8,571.9 69.6,579.6 74.4,586.3 77.3,593.1 79.2,596.9 84.0,598.8 88.8,600.8 95.6,603.7 101.3,605.6 108.0,607.0 120.0,608.0 132.5,610.5 157.5,612.4 185.0,613.0 224.4,614.2" fill="none" stroke="#333" stroke-width="1.0" stroke-linejoin="round" stroke-dasharray="1.0 1.3" stroke-opacity="0.8"/>
<polyline points="56.7,531.5 61.3,547.5 64.0,559.0 67.0,565.0 69.6,570.5 74.4,580.6 79.2,588.3 84.0,591.2 88.8,594.0 98.5,597.9 110.0,600.8 118.2,602.1 124.0,603.3 132.5,604.9 145.0,607.0 163.7,608.2 176.2,609.2 185.0,610.9 193.5,613.5 246.0,614.0" fill="none" stroke="#2a723a" stroke-width="1.3" stroke-linejoin="round"/>
<polyline points="56.7,531.5 61.3,546.5 64.0,557.0 67.0,563.0 69.6,568.5 74.4,578.0 79.2,583.0 84.0,586.3 88.8,588.5 93.7,590.5 100.4,593.0 110.0,595.8 120.0,597.4 132.5,599.2 145.0,600.9 163.7,603.0 180.0,604.1 196.2,606.2 217.7,606.8 246.0,607.5" fill="none" stroke="#b83a50" stroke-width="1.3" stroke-linejoin="round"/>
<polyline points="56.7,531.5 61.3,547.2 64.0,559.0 67.0,564.5 69.6,570.0 74.4,579.6 79.2,583.9 84.0,586.8 88.8,588.8 93.7,590.7 100.4,593.1 110.0,595.5 118.2,596.7 124.0,597.3 142.5,597.4 146.2,600.5 180.0,601.4 194.8,603.1 213.6,603.5 220.4,604.5 231.1,605.5 246.0,605.5" fill="none" stroke="#3030a8" stroke-width="1.3" stroke-linejoin="round"/>
<polyline points="56.7,531.5 59.8,541.1 61.3,544.9 64.0,547.2 67.5,551.8 70.2,556.5 72.1,559.9 77.8,560.3 78.6,561.8 79.4,564.9 83.2,568.0 87.1,570.3 90.9,571.8 94.0,573.4 97.4,575.0 100.9,578.5 113.6,578.5 114.7,580.6 124.6,580.6 124.6,582.3 140.0,582.3 140.0,584.2 167.0,584.2 167.0,586.2 170.8,586.2 170.8,588.2 207.7,588.2 207.7,590.8 231.8,590.8 231.8,593.4" fill="none" stroke="#111" stroke-width="1.3" stroke-linejoin="round"/>
<text class="b" x="26.2" y="693.9" font-family="Liberation Sans, sans-serif" font-weight="bold" font-size="8.5" text-anchor="start">Number at risk</text>
<text class="r" x="26.8" y="704.8" font-family="Liberation Sans, sans-serif" font-size="8.5" text-anchor="start">0-1</text>
<text class="r" x="62.4" y="704.8" font-family="Liberation Sans, sans-serif" font-size="8.5" text-anchor="end">73</text>
<text class="r" x="102.9" y="704.8" font-family="Liberation Sans, sans-serif" font-size="8.5" text-anchor="end">47</text>
<text class="r" x="139.3" y="704.8" font-family="Liberation Sans, sans-serif" font-size="8.5" text-anchor="end">37</text>
<text class="r" x="177.0" y="704.8" font-family="Liberation Sans, sans-serif" font-size="8.5" text-anchor="end">32</text>
<text class="r" x="217.4" y="704.8" font-family="Liberation Sans, sans-serif" font-size="8.5" text-anchor="end">25</text>
<text class="r" x="253.3" y="704.8" font-family="Liberation Sans, sans-serif" font-size="8.5" text-anchor="end">18</text>
<text class="r" x="26.8" y="714.8" font-family="Liberation Sans, sans-serif" font-size="8.5" text-anchor="start">2</text>
<text class="r" x="62.4" y="714.8" font-family="Liberation Sans, sans-serif" font-size="8.5" text-anchor="end">238</text>
<text class="r" x="102.9" y="714.8" font-family="Liberation Sans, sans-serif" font-size="8.5" text-anchor="end">117</text>
<text class="r" x="139.3" y="714.8" font-family="Liberation Sans, sans-serif" font-size="8.5" text-anchor="end">100</text>
<text class="r" x="177.0" y="714.8" font-family="Liberation Sans, sans-serif" font-size="8.5" text-anchor="end">80</text>
<text class="r" x="217.4" y="714.8" font-family="Liberation Sans, sans-serif" font-size="8.5" text-anchor="end">69</text>
<text class="r" x="253.3" y="714.8" font-family="Liberation Sans, sans-serif" font-size="8.5" text-anchor="end">54</text>
<text class="r" x="26.8" y="724.2" font-family="Liberation Sans, sans-serif" font-size="8.5" text-anchor="start">3</text>
<text class="r" x="62.4" y="724.2" font-family="Liberation Sans, sans-serif" font-size="8.5" text-anchor="end">464</text>
<text class="r" x="102.9" y="724.2" font-family="Liberation Sans, sans-serif" font-size="8.5" text-anchor="end">223</text>
<text class="r" x="139.3" y="724.2" font-family="Liberation Sans, sans-serif" font-size="8.5" text-anchor="end">188</text>
<text class="r" x="177.0" y="724.2" font-family="Liberation Sans, sans-serif" font-size="8.5" text-anchor="end">152</text>
<text class="r" x="217.4" y="724.2" font-family="Liberation Sans, sans-serif" font-size="8.5" text-anchor="end">126</text>
<text class="r" x="253.3" y="724.2" font-family="Liberation Sans, sans-serif" font-size="8.5" text-anchor="end">104</text>
<text class="r" x="26.8" y="734.2" font-family="Liberation Sans, sans-serif" font-size="8.5" text-anchor="start">4</text>
<text class="r" x="62.4" y="734.2" font-family="Liberation Sans, sans-serif" font-size="8.5" text-anchor="end">532</text>
<text class="r" x="102.9" y="734.2" font-family="Liberation Sans, sans-serif" font-size="8.5" text-anchor="end">240</text>
<text class="r" x="139.3" y="734.2" font-family="Liberation Sans, sans-serif" font-size="8.5" text-anchor="end">184</text>
<text class="r" x="177.0" y="734.2" font-family="Liberation Sans, sans-serif" font-size="8.5" text-anchor="end">155</text>
<text class="r" x="217.4" y="734.2" font-family="Liberation Sans, sans-serif" font-size="8.5" text-anchor="end">124</text>
<text class="r" x="253.3" y="734.2" font-family="Liberation Sans, sans-serif" font-size="8.5" text-anchor="end">100</text>
<text class="r" x="26.8" y="743.8" font-family="Liberation Sans, sans-serif" font-size="8.5" text-anchor="start">5</text>
<text class="r" x="62.4" y="743.8" font-family="Liberation Sans, sans-serif" font-size="8.5" text-anchor="end">400</text>
<text class="r" x="102.9" y="743.8" font-family="Liberation Sans, sans-serif" font-size="8.5" text-anchor="end">163</text>
<text class="r" x="139.3" y="743.8" font-family="Liberation Sans, sans-serif" font-size="8.5" text-anchor="end">122</text>
<text class="r" x="177.0" y="743.8" font-family="Liberation Sans, sans-serif" font-size="8.5" text-anchor="end">101</text>
<text class="r" x="217.4" y="743.8" font-family="Liberation Sans, sans-serif" font-size="8.5" text-anchor="end">81</text>
<text class="r" x="253.3" y="743.8" font-family="Liberation Sans, sans-serif" font-size="8.5" text-anchor="end">72</text>
<text class="r" x="26.8" y="753.8" font-family="Liberation Sans, sans-serif" font-size="8.5" text-anchor="start">6</text>
<text class="r" x="62.4" y="753.8" font-family="Liberation Sans, sans-serif" font-size="8.5" text-anchor="end">167</text>
<text class="r" x="102.9" y="753.8" font-family="Liberation Sans, sans-serif" font-size="8.5" text-anchor="end">82</text>
<text class="r" x="139.3" y="753.8" font-family="Liberation Sans, sans-serif" font-size="8.5" text-anchor="end">59</text>
<text class="r" x="177.0" y="753.8" font-family="Liberation Sans, sans-serif" font-size="8.5" text-anchor="end">49</text>
<text class="r" x="217.4" y="753.8" font-family="Liberation Sans, sans-serif" font-size="8.5" text-anchor="end">41</text>
<text class="r" x="253.3" y="753.8" font-family="Liberation Sans, sans-serif" font-size="8.5" text-anchor="end">36</text>
<text class="r" x="26.8" y="763.5" font-family="Liberation Sans, sans-serif" font-size="8.5" text-anchor="start">7</text>
<text class="r" x="62.4" y="763.5" font-family="Liberation Sans, sans-serif" font-size="8.5" text-anchor="end">48</text>
<text class="r" x="102.9" y="763.5" font-family="Liberation Sans, sans-serif" font-size="8.5" text-anchor="end">19</text>
<text class="r" x="139.3" y="763.5" font-family="Liberation Sans, sans-serif" font-size="8.5" text-anchor="end">14</text>
<text class="r" x="177.0" y="763.5" font-family="Liberation Sans, sans-serif" font-size="8.5" text-anchor="end">12</text>
<text class="r" x="217.4" y="763.5" font-family="Liberation Sans, sans-serif" font-size="8.5" text-anchor="end">7</text>
<text class="r" x="253.3" y="763.5" font-family="Liberation Sans, sans-serif" font-size="8.5" text-anchor="end">5</text>
</svg>
</body></html>
